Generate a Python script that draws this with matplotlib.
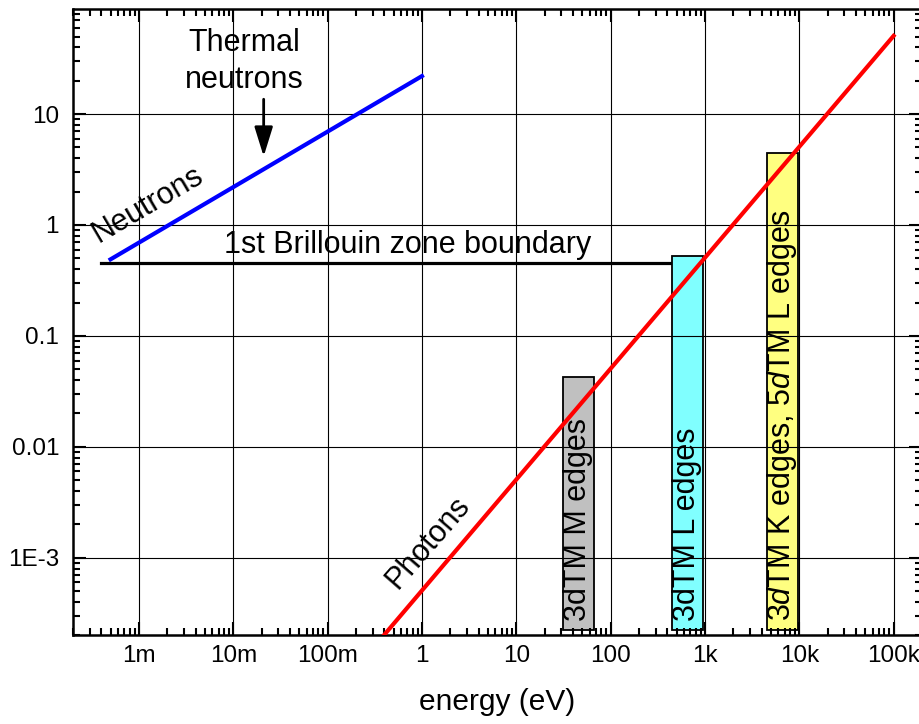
import numpy as np
import matplotlib
matplotlib.use('Agg')
import matplotlib.pyplot as plt
from matplotlib.ticker import FixedLocator, LogLocator, NullFormatter

plt.rcParams['font.family'] = 'Liberation Sans'
plt.rcParams['mathtext.fontset'] = 'custom'
plt.rcParams['mathtext.rm'] = 'Liberation Sans'
plt.rcParams['mathtext.it'] = 'Liberation Sans:italic'

# wavevector (1/A) vs energy (eV); straight lines on log-log, so endpoints only
neutron_energy = [5e-4, 1.0]
neutron_k = [0.49, 22.0]
photon_energy = [0.3, 1e5]
photon_k = [1.52e-4, 50.7]

# 1st Brillouin zone boundary
bz_energy = [4e-4, 900]
bz_k = [0.455, 0.455]

# absorption edge ranges
edge_labels = ['3dTM M edges', '3dTM L edges',
               '3$\\mathit{d}$TM K edges, 5$\\mathit{d}$TM L edges']
edge_lo = [31, 445, 4500]
edge_hi = [66, 950, 9600]
edge_top = [0.043, 0.53, 4.45]
edge_colors = ['#c0c0c0', '#80ffff', '#ffff80']
bar_floor = 2.25e-4

xticks = [1e-3, 1e-2, 0.1, 1, 10, 100, 1e3, 1e4, 1e5]
xticklabels = ['1m', '10m', '100m', '1', '10', '100', '1k', '10k', '100k']
yticks = [1e-3, 1e-2, 0.1, 1, 10]
yticklabels = ['1E-3', '0.01', '0.1', '1', '10']

fig = plt.figure(figsize=(9.19, 7.24), dpi=100)
ax = fig.add_axes([73/919, 88.7/724, (922-73)/919, (635.3-9.3)/724])
ax.set_xscale('log')
ax.set_yscale('log')
ax.set_xlim(2e-4, 2e5)
ax.set_ylim(2e-4, 88)

# edge bars
ax.bar(edge_lo, np.subtract(edge_top, bar_floor), width=np.subtract(edge_hi, edge_lo),
       bottom=bar_floor, align='edge', color=edge_colors, edgecolor='k',
       linewidth=1.3, zorder=1)
for lo, hi, lab in zip(edge_lo, edge_hi, edge_labels):
    ax.text(np.sqrt(lo*hi), 2.67e-4, lab, rotation=90, ha='center', va='bottom',
            fontsize=22, zorder=4)

ax.plot(bz_energy, bz_k, color='k', lw=2.3, zorder=0.9)
ax.plot(neutron_energy, neutron_k, color='#0000ff', lw=3, zorder=3)
ax.plot(photon_energy, photon_k, color='#ff0000', lw=3, zorder=3)

ax.text(0.70, 0.56, '1st Brillouin zone boundary', fontsize=22, ha='center', va='baseline')
ax.text(1.24e-3, 1.52, 'Neutrons', fontsize=22, rotation=30.5, ha='center', va='center',
        rotation_mode='anchor')
ax.text(1.17, 1.37e-3, 'Photons', fontsize=22, rotation=49, ha='center', va='center',
        rotation_mode='anchor')
ax.text(0.013, 30, 'Thermal\nneutrons', fontsize=22, ha='center', va='center',
        linespacing=1.3)
ax.annotate('', xy=(0.021, 4.15), xytext=(0.021, 13.6),
            arrowprops=dict(arrowstyle='-|>,head_length=0.9,head_width=0.28',
                            color='k', lw=2, mutation_scale=20, shrinkA=0, shrinkB=0))

# axes styling
ax.xaxis.set_major_locator(FixedLocator(xticks))
ax.set_xticklabels(xticklabels)
ax.yaxis.set_major_locator(FixedLocator(yticks))
ax.set_yticklabels(yticklabels)
ax.xaxis.set_minor_locator(LogLocator(base=10, subs=np.arange(2, 10), numticks=100))
ax.yaxis.set_minor_locator(LogLocator(base=10, subs=np.arange(2, 10), numticks=100))
ax.xaxis.set_minor_formatter(NullFormatter())
ax.yaxis.set_minor_formatter(NullFormatter())
ax.tick_params(which='both', direction='in', top=True, right=True, width=1.5)
ax.tick_params(which='major', length=9.5, labelsize=17.5)
ax.tick_params(which='minor', length=5)
ax.tick_params(axis='x', which='major', pad=7)
ax.tick_params(axis='y', which='major', pad=10)
for sp in ax.spines.values():
    sp.set_linewidth(1.8)
ax.grid(True, which='major', color='k', lw=0.8)
ax.set_axisbelow(False)
ax.set_xlabel('energy (eV)', fontsize=21.5, labelpad=15)

fig.savefig('out.png', dpi=100)
